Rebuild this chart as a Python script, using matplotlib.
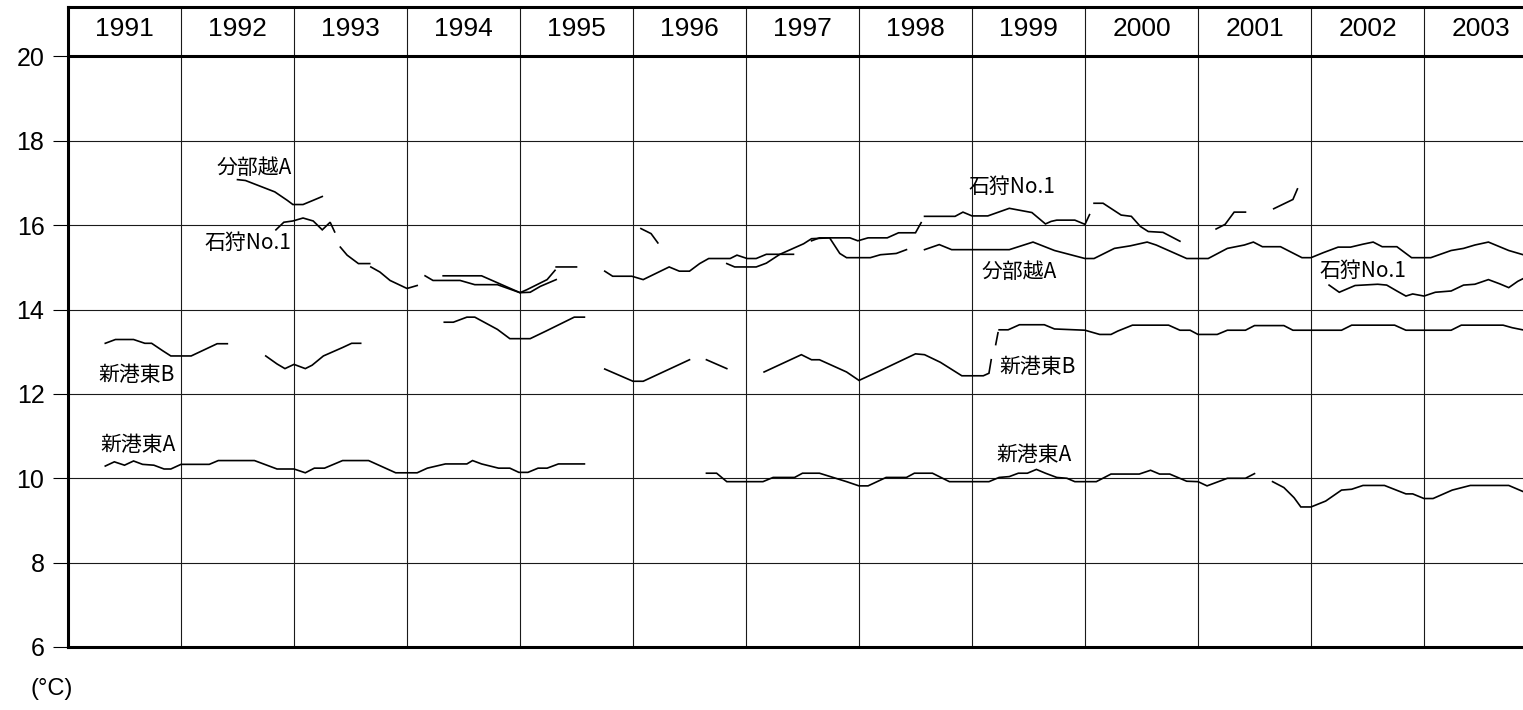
import numpy as np
import matplotlib
matplotlib.use("Agg")
from matplotlib import pyplot as plt

plt.rcParams['font.family'] = ['Noto Sans CJK JP', 'DejaVu Sans']

# year columns shown in the header row
years = list(range(1991, 2004))
y_ticks = [6, 8, 10, 12, 14, 16, 18, 20]

# water temperature (deg C), None marks a gap in the record
shinko_a_x = [1991.33, 1991.41, 1991.50, 1991.58, 1991.66, 1991.76, 1991.85, 1991.91, 1992.00, 1992.25,
              1992.33, 1992.65, 1992.85, 1993.00, 1993.10, 1993.18, 1993.27, 1993.43, 1993.66, 1993.90,
              1994.09, 1994.18, 1994.34, 1994.53, 1994.58, 1994.66, 1994.81, 1994.91, 1994.99, 1995.07,
              1995.16, 1995.24, 1995.34, 1995.57, None,
              1996.65, 1996.74, 1996.83, 1997.15, 1997.24, 1997.43, 1997.50, 1997.65, 1997.77, 1997.89,
              1998.00, 1998.08, 1998.24, 1998.42, 1998.49, 1998.65, 1998.80, 1999.15, 1999.24, 1999.33,
              1999.41, 1999.49, 1999.57, 1999.65, 1999.75, 1999.84, 1999.91, 2000.10, 2000.23, 2000.48,
              2000.58, 2000.66, 2000.75, 2000.90, 2001.00, 2001.08, 2001.17, 2001.26, 2001.42, 2001.50, None,
              2001.66, 2001.76, 2001.85, 2001.91, 2002.00, 2002.13, 2002.27, 2002.36, 2002.46, 2002.65,
              2002.84, 2002.90, 2003.00, 2003.08, 2003.25, 2003.41, 2003.75, 2003.89]
shinko_a_y = [10.29, 10.39, 10.31, 10.41, 10.33, 10.31, 10.22, 10.22, 10.33, 10.33,
              10.42, 10.42, 10.22, 10.22, 10.13, 10.24, 10.24, 10.42, 10.42, 10.13,
              10.13, 10.24, 10.34, 10.34, 10.42, 10.34, 10.24, 10.24, 10.14, 10.14,
              10.24, 10.24, 10.34, 10.34, None,
              10.12, 10.12, 9.92, 9.92, 10.02, 10.02, 10.12, 10.12, 10.02, 9.92,
              9.82, 9.82, 10.02, 10.02, 10.12, 10.12, 9.92, 9.92, 10.02, 10.04,
              10.12, 10.12, 10.21, 10.12, 10.02, 10.00, 9.92, 9.92, 10.10, 10.10,
              10.19, 10.10, 10.10, 9.93, 9.92, 9.82, 9.91, 10.00, 10.00, 10.11, None,
              9.92, 9.78, 9.54, 9.32, 9.32, 9.46, 9.72, 9.74, 9.83, 9.83,
              9.63, 9.63, 9.52, 9.52, 9.72, 9.83, 9.83, 9.67]

shinko_b_x = [1991.33, 1991.42, 1991.58, 1991.68, 1991.74, 1991.84, 1991.91, 1992.09, 1992.32, 1992.41, None,
              1992.75, 1992.85, 1992.92, 1993.00, 1993.10, 1993.16, 1993.26, 1993.43, 1993.51, 1993.59, None,
              1994.33, 1994.41, 1994.53, 1994.60, 1994.80, 1994.91, 1995.09, 1995.23, 1995.48, 1995.57, None,
              1995.75, 1996.00, 1996.09, 1996.50, None,
              1996.65, 1996.83, None,
              1997.16, 1997.49, 1997.58, 1997.65, 1997.89, 1998.00, 1998.17, 1998.50, 1998.58, 1998.72,
              1998.91, 1999.10, 1999.15, 1999.17, None,
              1999.21, 1999.23, None,
              1999.24, 1999.32, 1999.42, 1999.64, 1999.73, 2000.00, 2000.13, 2000.23, 2000.29, 2000.42,
              2000.74, 2000.84, 2000.93, 2001.00, 2001.17, 2001.26, 2001.42, 2001.50, 2001.76, 2001.84,
              2002.27, 2002.36, 2002.74, 2002.84, 2003.24, 2003.33, 2003.70, 2003.78, 2003.89]
shinko_b_y = [13.20, 13.29, 13.29, 13.20, 13.20, 13.02, 12.90, 12.90, 13.19, 13.19, None,
              12.90, 12.71, 12.60, 12.70, 12.60, 12.68, 12.90, 13.10, 13.20, 13.20, None,
              13.70, 13.70, 13.82, 13.82, 13.53, 13.31, 13.31, 13.49, 13.82, 13.82, None,
              12.59, 12.30, 12.30, 12.81, None,
              12.81, 12.60, None,
              12.52, 12.93, 12.81, 12.81, 12.52, 12.32, 12.53, 12.95, 12.93, 12.75,
              12.43, 12.43, 12.49, 12.81, None,
              13.17, 13.45, None,
              13.52, 13.52, 13.64, 13.64, 13.54, 13.51, 13.41, 13.41, 13.49, 13.63,
              13.63, 13.51, 13.51, 13.41, 13.41, 13.51, 13.51, 13.62, 13.62, 13.51,
              13.51, 13.63, 13.63, 13.51, 13.51, 13.63, 13.63, 13.57, 13.51]

bunbu_a_x = [1992.50, 1992.57, 1992.83, 1992.94, 1992.99, 1993.08, 1993.17, 1993.25, None,
             1994.32, 1994.66, 1995.00, 1995.06, 1995.24, 1995.31, None,
             1995.32, 1995.50, None,
             1996.83, 1996.90, 1997.09, 1997.18, 1997.30, 1997.51, 1997.58, 1997.74, 1997.83, 1997.89,
             1998.10, 1998.19, 1998.33, 1998.42, None,
             1998.58, 1998.71, 1998.82, 1999.33, 1999.54, 1999.73, 2000.00, 2000.08, 2000.26, 2000.40,
             2000.55, 2000.63, 2000.90, 2001.09, 2001.26, 2001.41, 2001.49, 2001.57, 2001.73, 2001.92,
             2002.00, 2002.11, 2002.24, 2002.35, 2002.46, 2002.55, 2002.63, 2002.76, 2002.89, 2003.06,
             2003.24, 2003.35, 2003.45, 2003.57, 2003.75, 2003.89]
bunbu_a_y = [17.08, 17.06, 16.79, 16.59, 16.49, 16.49, 16.59, 16.68, None,
             14.80, 14.80, 14.40, 14.47, 14.71, 14.93, None,
             15.01, 15.01, None,
             15.09, 15.01, 15.01, 15.10, 15.31, 15.56, 15.68, 15.70, 15.33, 15.23,
             15.23, 15.30, 15.33, 15.42, None,
             15.42, 15.54, 15.42, 15.42, 15.60, 15.40, 15.21, 15.21, 15.45, 15.51,
             15.60, 15.53, 15.21, 15.21, 15.45, 15.53, 15.60, 15.49, 15.49, 15.23,
             15.23, 15.35, 15.48, 15.48, 15.55, 15.60, 15.49, 15.49, 15.23, 15.23,
             15.40, 15.45, 15.53, 15.60, 15.40, 15.29]

ishikari_x = [1992.84, 1992.91, 1992.99, 1993.08, 1993.17, 1993.25, 1993.32, 1993.36, None,
              1993.41, 1993.47, 1993.57, 1993.67, None,
              1993.68, 1993.76, 1993.85, 1994.00, 1994.09, None,
              1994.16, 1994.23, 1994.47, 1994.60, 1994.80, 1995.00, 1995.09, 1995.18, 1995.32, None,
              1995.75, 1995.82, 1995.99, 1996.09, 1996.32, 1996.41, 1996.50, 1996.59, 1996.67, 1996.86,
              1996.92, 1997.01, 1997.09, 1997.18, 1997.42, None,
              1996.07, 1996.16, 1996.22, None,
              1997.58, 1997.65, 1997.92, 1997.99, 1998.08, 1998.25, 1998.35, 1998.50, 1998.55, None,
              1998.58, 1998.85, 1998.92, 1999.00, 1999.14, 1999.33, 1999.53, 1999.65, 1999.70, 1999.75,
              1999.91, 2000.00, 2000.04, None,
              2000.08, 2000.16, 2000.32, 2000.41, 2000.49, 2000.56, 2000.69, 2000.84, None,
              2001.16, 2001.24, 2001.32, 2001.42, None,
              2001.67, 2001.84, 2001.88, None,
              2002.16, 2002.25, 2002.39, 2002.59, 2002.67, 2002.76, 2002.84, 2002.90, 2003.00, 2003.10,
              2003.24, 2003.35, 2003.45, 2003.57, 2003.67, 2003.75, 2003.83, 2003.89]
ishikari_y = [15.89, 16.07, 16.10, 16.17, 16.10, 15.89, 16.07, 15.84, None,
              15.48, 15.29, 15.09, 15.09, None,
              15.01, 14.89, 14.69, 14.50, 14.57, None,
              14.80, 14.69, 14.69, 14.59, 14.59, 14.40, 14.41, 14.55, 14.71, None,
              14.91, 14.79, 14.79, 14.71, 15.01, 14.91, 14.91, 15.09, 15.21, 15.21,
              15.29, 15.21, 15.21, 15.31, 15.31, None,
              15.92, 15.80, 15.58, None,
              15.63, 15.70, 15.70, 15.63, 15.70, 15.70, 15.82, 15.82, 16.06, None,
              16.21, 16.21, 16.31, 16.22, 16.22, 16.40, 16.30, 16.03, 16.09, 16.12,
              16.12, 16.02, 16.25, None,
              16.52, 16.52, 16.24, 16.21, 15.97, 15.85, 15.83, 15.62, None,
              15.91, 16.02, 16.31, 16.31, None,
              16.39, 16.61, 16.86, None,
              14.58, 14.41, 14.57, 14.60, 14.58, 14.44, 14.32, 14.37, 14.32, 14.41,
              14.44, 14.58, 14.60, 14.71, 14.61, 14.52, 14.67, 14.75]

# station names written next to the lines: (text, year, value)
labels = [
    ("分部越A", 1992.65, 17.35),
    ("石狩No.1", 1992.59, 15.59),
    ("新港東B", 1991.61, 12.44),
    ("新港東A", 1991.62, 10.78),
    ("石狩No.1", 1999.35, 16.90),
    ("分部越A", 1999.42, 14.88),
    ("新港東B", 1999.58, 12.63),
    ("新港東A", 1999.55, 10.55),
    ("石狩No.1", 2002.46, 14.91),
]

W, H = 1523, 710
fig = plt.figure(figsize=(W / 100, H / 100), dpi=100)
ax = fig.add_axes([68 / W, 63 / H, 1469 / W, 640.3 / H])

for xs, ys in [(shinko_a_x, shinko_a_y), (shinko_b_x, shinko_b_y),
               (bunbu_a_x, bunbu_a_y), (ishikari_x, ishikari_y)]:
    x = np.array(xs, dtype=float)
    y = np.array(ys, dtype=float)
    ax.plot(x, y, color="black", lw=1.2, solid_joinstyle="miter")

ax.set_xlim(1991, 2004)
ax.set_ylim(6, 21.18)

# year separators and temperature grid
ax.set_xticks(years[1:])
ax.tick_params(axis="x", length=0, labelbottom=False)
ax.set_yticks(y_ticks)
ax.set_yticklabels([str(v) for v in y_ticks], family="Liberation Sans", fontsize=18)
ax.tick_params(axis="y", length=11, width=0.8, pad=6, direction="out")
ax.grid(True, color="#1a1a1a", lw=0.8)
ax.axhline(20, color="black", lw=2.2)

for s in ["top", "left", "bottom"]:
    ax.spines[s].set_linewidth(2.2)
ax.spines["right"].set_visible(False)

for yr in years:
    ax.text(yr + 0.5, 20.66, str(yr), ha="center", va="center",
            family="Liberation Sans", fontsize=19)

for txt, lx, ly in labels:
    ax.text(lx, ly, txt, ha="center", va="center", fontsize=15)

fig.text(30 / W, 1 - 689 / H, "(°C)", ha="left", va="center", fontsize=17,
         family="Liberation Sans")

fig.savefig("out.png", dpi=100)
